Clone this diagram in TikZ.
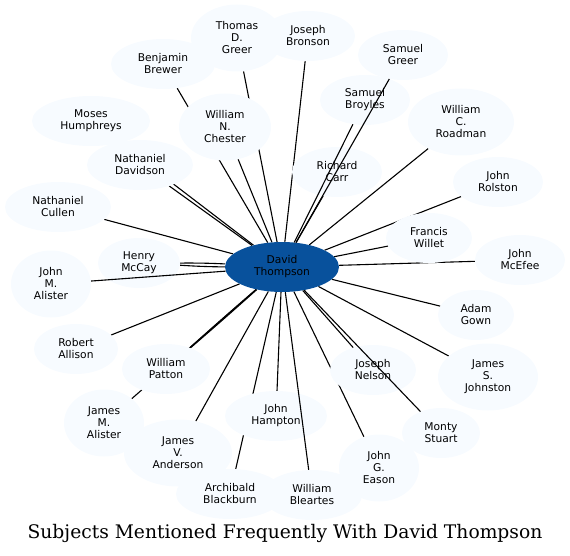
\documentclass[tikz,border=0pt]{standalone}
\usepackage{fontspec}
\usetikzlibrary{shapes.geometric,backgrounds}
\newfontfamily\subjfont{DejaVu Sans}
\newfontfamily\titlefont{DejaVu Serif}
\definecolor{bluedark}{HTML}{08519C}
\definecolor{bluelight}{HTML}{F7FBFF}

\begin{document}
\begin{tikzpicture}[x=1pt,y=-1pt,
    subj/.style={ellipse,fill=bluelight,inner sep=0pt,align=center,
      font=\subjfont\fontsize{10.7}{12}\selectfont,minimum height=50pt},
    subjtall/.style={subj,minimum height=67pt},
    link/.style={line width=1.1pt}]
\useasboundingbox (0,0) rectangle (570,556);

% Center of the network
\node[subj,fill=bluedark,minimum width=114pt] (dthompson) at (282,267) {David\\Thompson};

% Subjects around it
\node[subjtall,minimum width=92pt] (tgreer) at (237,38) {Thomas\\D.\\Greer};
\node[subj,minimum width=94pt] (jbronson) at (308,36) {Joseph\\Bronson};
\node[subj,minimum width=90pt] (sgreer) at (403,55) {Samuel\\Greer};
\node[subj,minimum width=104pt] (bbrewer) at (163,64) {Benjamin\\Brewer};
\node[subj,minimum width=90pt] (sbroyles) at (365,100) {Samuel\\Broyles};
\node[subjtall,minimum width=106pt] (wroadman) at (461,122) {William\\C.\\Roadman};
\node[subj,minimum width=118pt] (mhumphreys) at (91,121) {Moses\\Humphreys};
\node[subjtall,minimum width=92pt] (wchester) at (225,127) {William\\N.\\Chester};
\node[subj,minimum width=106pt] (ndavidson) at (140,165) {Nathaniel\\Davidson};
\node[subj,minimum width=90pt] (rcarr) at (337,172) {Richard\\Carr};
\node[subj,minimum width=90pt] (jrolston) at (498,182) {John\\Rolston};
\node[subj,minimum width=106pt] (ncullen) at (58,207) {Nathaniel\\Cullen};
\node[subj,minimum width=86pt] (fwillet) at (429,238) {Francis\\Willet};
\node[subj,minimum width=82pt] (hmccay) at (139,263) {Henry\\McCay};
\node[subj,minimum width=90pt] (jmcefee) at (520,260) {John\\McEfee};
\node[subjtall,minimum width=80pt] (jmalister) at (51,284) {John\\M.\\Alister};
\node[subj,minimum width=76pt] (agown) at (476,315) {Adam\\Gown};
\node[subj,minimum width=84pt] (rallison) at (76,349) {Robert\\Allison};
\node[subj,minimum width=88pt] (wpatton) at (166,369) {William\\Patton};
\node[subj,minimum width=86pt] (jnelson) at (373,370) {Joseph\\Nelson};
\node[subjtall,minimum width=100pt] (jsjohnston) at (488,377) {James\\S.\\Johnston};
\node[subj,minimum width=102pt] (jhampton) at (276,416) {John\\Hampton};
\node[subjtall,minimum width=80pt] (jamalister) at (104,423) {James\\M.\\Alister};
\node[subj,minimum width=78pt] (mstuart) at (441,433) {Monty\\Stuart};
\node[subjtall,minimum width=108pt] (jvanderson) at (178,453) {James\\V.\\Anderson};
\node[subjtall,minimum width=80pt] (jgeason) at (379,468) {John\\G.\\Eason};
\node[subj,minimum width=108pt] (ablackburn) at (230,494) {Archibald\\Blackburn};
\node[subj,minimum width=100pt] (wbleartes) at (312,495) {William\\Bleartes};

% Links running under the subjects
\begin{pgfonlayer}{background}
\foreach \n in {tgreer,jbronson,bbrewer,wroadman,mhumphreys,wchester,ndavidson,
    rcarr,jrolston,ncullen,fwillet,jmcefee,agown,rallison,jnelson,jsjohnston,
    jhampton,jamalister,jvanderson,jgeason,ablackburn}
  \draw[link] (dthompson) -- (\n);
\draw[link] (dthompson) to[bend left=1.5] (hmccay);
\draw[link] (dthompson) to[bend right=1.5] (hmccay);
\draw[link] (dthompson) to[bend left=0.5] (wpatton);
\draw[link] (dthompson) to[bend right=0.5] (wpatton);
\end{pgfonlayer}

% Links drawn over the subjects
\foreach \n in {jmalister,sbroyles,sgreer,mstuart,wbleartes}
  \draw[link] (dthompson) -- (\n);

\node[font=\titlefont\fontsize{18.7}{22}\selectfont] (title) at (285,533) {Subjects Mentioned Frequently With David Thompson};
\end{tikzpicture}
\end{document}
